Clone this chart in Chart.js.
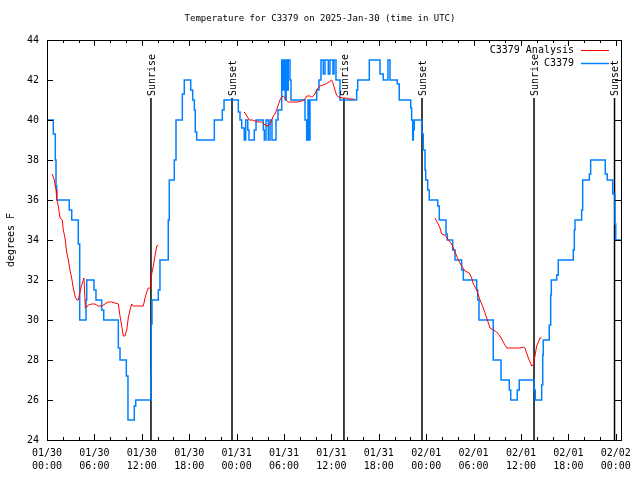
<!DOCTYPE html>
<html>
<head>
<meta charset="utf-8">
<script src="https://cdn.jsdelivr.net/npm/chart.js@4.4.0/dist/chart.umd.min.js"></script>
<style>
html, body { margin: 0; padding: 0; background: #fff; }
canvas { display: block; }
</style>
</head>
<body>
<canvas id="tempChart" width="640" height="480"></canvas>
<script>
// hours since 2025-01-30 00:00 UTC
const obsHours = [0, 0.80, 1.05, 1.14, 1.23, 2.82, 3.13, 3.96, 4.14, 4.94, 5.03, 5.95, 6.20, 6.92, 7.18,
    9.03, 9.24, 10.04, 10.25, 11.05, 11.23, 13.16, 13.20, 13.29, 14.09, 14.30, 15.35, 15.48, 16.11, 16.33,
    17.13, 17.38, 18.19, 18.44, 18.65, 18.77, 18.95, 21.18, 22.19, 22.41, 24.22, 24.43, 24.65, 24.97, 25.15,
    25.41, 25.57, 26.24, 26.46, 27.38, 27.51, 27.72, 28.01, 28.23, 28.48, 28.99, 29.24, 29.71, 29.87, 30.04,
    30.16, 30.28, 30.41, 30.54, 30.76, 30.89, 32.66, 32.87, 33.04, 33.16, 33.29, 34.14, 34.43, 34.68, 34.97,
    35.19, 35.61, 35.82, 36.20, 36.33, 36.58, 37.09, 39.20, 39.33, 40.80, 42.15, 42.57, 43.16, 43.42, 44.34,
    44.59, 46.04, 46.16, 46.29, 46.37, 46.49, 47.43, 47.63, 47.85, 47.94, 48.19, 48.39, 49.46, 49.66, 50.51,
    50.67, 51.35, 51.65, 52.49, 52.70, 54.39, 54.52, 54.68, 56.49, 57.47, 58.52, 58.70, 59.53, 59.78, 61.65,
    61.81, 62.62, 62.75, 62.82, 63.58, 63.76, 63.84, 64.52, 64.72, 66.62, 66.75, 66.84, 67.68, 67.81, 68.65,
    68.82, 70.67, 70.92, 71.61, 71.90, 71.99, 72.66];
const obsTemps = [40.0, 39.3, 38.0, 36.7, 36.0, 35.5, 35.0, 33.8, 30.0, 31.0, 32.0, 31.5, 31.0, 30.5, 30.0,
    28.6, 28.0, 27.2, 25.0, 25.7, 26.0, 27.3, 29.8, 31.0, 31.5, 33.0, 35.0, 37.0, 38.0, 40.0,
    41.3, 42.0, 41.5, 41.0, 40.5, 39.4, 39.0, 40.0, 40.5, 41.0, 40.4, 40.0, 39.6, 39.0, 40.0,
    39.5, 39.0, 39.5, 40.0, 39.5, 39.0, 40.0, 39.0, 40.0, 39.0, 40.0, 40.5, 43.0, 41.5, 43.0,
    41.0, 43.0, 41.5, 43.0, 42.0, 41.0, 40.0, 39.0, 41.0, 39.0, 41.0, 41.5, 42.0, 43.0, 42.3,
    43.0, 42.3, 43.0, 42.3, 43.0, 42.0, 41.0, 41.5, 42.0, 43.0, 42.3, 42.0, 43.0, 42.0, 41.8,
    41.0, 40.6, 40.0, 39.0, 39.5, 40.0, 39.3, 38.5, 37.5, 37.0, 36.5, 36.0, 35.7, 35.0, 34.3,
    34.0, 33.5, 33.0, 32.5, 32.0, 31.5, 31.0, 30.0, 28.0, 27.0, 26.5, 26.0, 26.5, 27.0, 26.5,
    26.0, 26.75, 28.25, 29.0, 29.75, 31.25, 32.0, 32.25, 33.0, 33.5, 34.5, 35.0, 35.5, 37.0, 37.3,
    38.0, 37.3, 37.0, 36.3, 34.8, 34.0, 34.0];

// null marks a break in the analysis line
const anaHours = [0.67, 0.92, 1.14, 1.23, 1.43, 1.65, 1.94, 2.06, 2.28, 2.49, 2.70, 2.91, 3.12, 3.33, 3.54,
    3.76, 3.96, 4.18, 4.39, 4.68, 4.85, 5.03, 5.23, 5.66, 6.08, 6.49, 6.92, 7.34, 7.76, 8.19, 8.61, 9.03,
    9.24, 9.46, 9.66, 9.87, 10.09, 10.29, 10.51, 10.72, 10.92, 11.56, 12.19, 12.41, 12.62, 12.82, 13.16,
    13.25, 13.46, 13.67, 13.89, 14.09,
    19.5,
    24.97, 25.30, 25.60, 26.00, 26.33, 26.75, 27.18, 27.60, 28.01, 28.23, 28.44, 28.65, 28.86, 29.07, 29.28,
    29.49, 29.70, 29.91, 30.12, 30.33, 30.54, 31.00, 31.40, 31.80, 32.20, 32.45, 32.66, 32.87, 33.30, 33.50,
    33.70, 33.92, 34.13, 34.55, 34.97, 35.40, 35.70, 36.03, 36.24, 36.45, 36.66, 36.87, 37.20, 37.50, 37.90,
    38.35, 38.90,
    44.0,
    49.11, 49.53, 49.75, 49.96, 50.38, 50.80, 51.22, 51.65, 52.07, 52.49, 52.91, 53.46, 53.76, 53.97, 54.39,
    54.81, 55.23, 55.66, 56.08, 56.50, 56.92, 57.34, 57.76, 58.19, 59.03, 59.87, 60.30, 60.50, 60.93, 61.35,
    61.56, 61.77, 61.98, 62.41, 62.62];
const anaTemps = [37.3, 37.0, 36.5, 36.1, 35.7, 35.1, 35.0, 34.5, 34.1, 33.4, 33.0, 32.5, 32.1, 31.6, 31.2,
    31.0, 31.0, 31.4, 31.75, 32.1, 30.6, 30.65, 30.75, 30.8, 30.8, 30.7, 30.7, 30.8, 30.9, 30.9, 30.85, 30.8,
    30.2, 29.7, 29.2, 29.2, 29.5, 30.1, 30.5, 30.8, 30.7, 30.7, 30.7, 31.1, 31.4, 31.6, 31.6,
    32.3, 32.7, 33.2, 33.7, 33.75,
    null,
    40.4, 40.2, 40.0, 40.0, 39.95, 39.9, 39.9, 39.75, 39.7, 39.8, 40.0, 40.2, 40.3, 40.5, 40.75,
    41.0, 41.15, 41.2, 41.1, 40.97, 40.9, 40.9, 40.9, 40.9, 40.95, 41.0, 41.05, 41.2, 41.2, 41.15,
    41.2, 41.3, 41.5, 41.7, 41.75, 41.83, 41.9, 42.0, 41.8, 41.5, 41.25, 41.15, 41.12, 41.1, 41.1,
    41.05, 41.05,
    null,
    35.1, 34.8, 34.6, 34.3, 34.25, 34.0, 33.8, 33.4, 33.0, 32.7, 32.45, 32.35, 32.1, 31.8, 31.5,
    31.0, 30.6, 30.1, 29.6, 29.5, 29.4, 29.2, 28.9, 28.6, 28.6, 28.6, 28.65, 28.6, 28.1, 27.7,
    27.75, 28.2, 28.7, 29.1, 29.1];

const sunLabels = ['Sunrise', 'Sunset', 'Sunrise', 'Sunset', 'Sunrise', 'Sunset'];
const sunHours = [13.16, 23.42, 37.59, 47.47, 61.65, 71.84];

const xTickHours = [0, 6, 12, 18, 24, 30, 36, 42, 48, 54, 60, 66, 72];
const xTickDates = ['01/30', '01/30', '01/30', '01/30', '01/31', '01/31', '01/31', '01/31',
    '02/01', '02/01', '02/01', '02/01', '02/02'];
const xTickTimes = ['00:00', '06:00', '12:00', '18:00', '00:00', '06:00', '12:00', '18:00',
    '00:00', '06:00', '12:00', '18:00', '00:00'];
const yTicks = [24, 26, 28, 30, 32, 34, 36, 38, 40, 42, 44];

const titleText = 'Temperature for C3379 on 2025-Jan-30 (time in UTC)';
const yTitle = 'degrees F';
const seriesNames = ['C3379 Analysis', 'C3379'];

const colors = {
    Analysis: 'rgb(255,0,0)',
    Obs: 'rgb(0,128,255)',
    Lines: '#000'
};
const FONT = '10px "DejaVu Sans Mono", monospace';
const TITLE_FONT = '9px "DejaVu Sans Mono", monospace';

const zip = (xs, ys) => xs.map((x, i) => ({ x: x, y: ys[i] }));

const sunSets = sunHours.map((h, i) => ({
    label: sunLabels[i],
    data: [{ x: h, y: 24 }, { x: h, y: 41.1 }],
    borderColor: colors.Lines,
    borderWidth: 1.5,
    pointRadius: 0
}));

const framePlugin = {
    id: 'frame',
    afterDraw(chart) {
        const ctx = chart.ctx;
        const xs = chart.scales.x, ys = chart.scales.y;
        const a = chart.chartArea;
        ctx.save();
        ctx.strokeStyle = '#000';
        ctx.fillStyle = '#000';
        ctx.lineWidth = 1;
        ctx.font = FONT;

        // border
        ctx.strokeRect(Math.round(a.left) + 0.5, Math.round(a.top) + 0.5,
            Math.round(a.right - a.left), Math.round(a.bottom - a.top));

        // x ticks (major every 6h, minor every 2h), mirrored on top
        ctx.beginPath();
        for (let h = 0; h <= 72; h += 2) {
            const px = Math.round(xs.getPixelForValue(h)) + 0.5;
            const len = h % 6 === 0 ? 6 : 3;
            ctx.moveTo(px, a.bottom); ctx.lineTo(px, a.bottom - len);
            ctx.moveTo(px, a.top); ctx.lineTo(px, a.top + len);
        }
        // y ticks, mirrored on right
        yTicks.forEach(v => {
            const py = Math.round(ys.getPixelForValue(v)) + 0.5;
            ctx.moveTo(a.left, py); ctx.lineTo(a.left + 6, py);
            ctx.moveTo(a.right, py); ctx.lineTo(a.right - 6, py);
        });
        ctx.stroke();

        // tick labels
        ctx.textAlign = 'center';
        ctx.textBaseline = 'middle';
        xTickHours.forEach((h, i) => {
            const px = xs.getPixelForValue(h);
            ctx.fillText(xTickDates[i], px, 453);
            ctx.fillText(xTickTimes[i], px, 466);
        });
        ctx.textAlign = 'right';
        yTicks.forEach(v => {
            ctx.fillText(String(v), 39, ys.getPixelForValue(v));
        });

        // title and axis title
        ctx.textAlign = 'center';
        ctx.font = TITLE_FONT;
        ctx.fillText(titleText, 320, 19);
        ctx.font = FONT;
        ctx.save();
        ctx.translate(11, 240);
        ctx.rotate(-Math.PI / 2);
        ctx.fillText(yTitle, 0, 0);
        ctx.restore();

        // sunrise / sunset labels
        ctx.textAlign = 'left';
        sunHours.forEach((h, i) => {
            ctx.save();
            ctx.translate(xs.getPixelForValue(h) + 1, ys.getPixelForValue(41.2));
            ctx.rotate(-Math.PI / 2);
            ctx.fillText(sunLabels[i], 0, 0);
            ctx.restore();
        });

        // key
        ctx.textAlign = 'right';
        const keyColors = [colors.Analysis, colors.Obs];
        seriesNames.forEach((name, i) => {
            const y = 50 + i * 13;
            ctx.fillStyle = '#000';
            ctx.fillText(name, 574, y);
            ctx.strokeStyle = keyColors[i];
            ctx.lineWidth = i === 0 ? 1 : 1.5;
            ctx.beginPath();
            ctx.moveTo(581, y + 0.5); ctx.lineTo(609, y + 0.5);
            ctx.stroke();
        });
        ctx.restore();
    }
};

new Chart(document.getElementById('tempChart'), {
    type: 'line',
    data: {
        datasets: [{
            label: seriesNames[0],
            data: zip(anaHours, anaTemps),
            borderColor: colors.Analysis,
            borderWidth: 1,
            pointRadius: 0,
            spanGaps: false
        }, {
            label: seriesNames[1],
            data: zip(obsHours, obsTemps),
            borderColor: colors.Obs,
            borderWidth: 1.5,
            pointRadius: 0,
            stepped: 'before'
        }].concat(sunSets)
    },
    options: {
        responsive: false,
        animation: false,
        events: [],
        layout: { autoPadding: false, padding: { left: 47, right: 19, top: 40, bottom: 40 } },
        plugins: { legend: { display: false }, tooltip: { enabled: false } },
        scales: {
            x: { type: 'linear', min: 0, max: 72.66, display: false },
            y: { type: 'linear', min: 24, max: 44, display: false }
        }
    },
    plugins: [framePlugin]
});
</script>
</body>
</html>
